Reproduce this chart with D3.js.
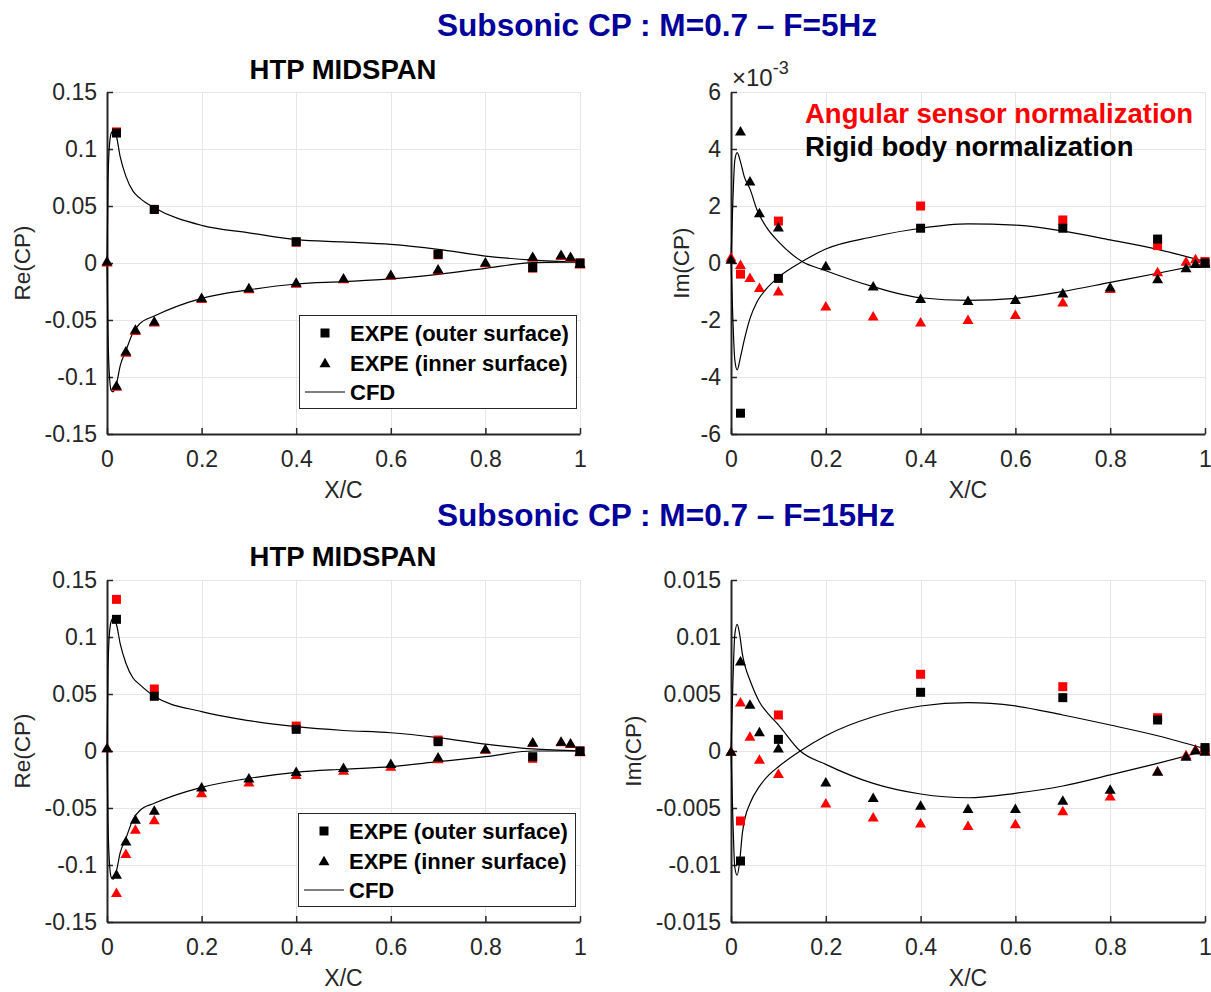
<!DOCTYPE html>
<html>
<head>
<meta charset="utf-8">
<script src="https://cdn.jsdelivr.net/npm/d3@7"></script>
<style>
  body { margin: 0; background: #fff; }
  svg { display: block; font-family: "Liberation Sans", Arial, sans-serif; }
</style>
</head>
<body>
<script>
// Pressure coefficient on the HTP midspan section, real and imaginary parts,
// at 5 Hz (top row) and 15 Hz (bottom row). Red: angular sensor normalization,
// black: rigid body normalization.

// Chordwise sensor stations
const xInner = [0, 0.02, 0.04, 0.06, 0.1, 0.2, 0.3, 0.4, 0.5, 0.6, 0.7, 0.8, 0.9, 0.96, 0.98, 1.0];
const xOuter = [0.02, 0.1, 0.4, 0.7, 0.9, 1.0];

const xTicks = [0, 0.2, 0.4, 0.6, 0.8, 1];
const reTicks = [-0.15, -0.1, -0.05, 0, 0.05, 0.1, 0.15];
const im5Ticks = [-6, -4, -2, 0, 2, 4, 6];           // units of 1e-3
const im15Ticks = [-0.015, -0.01, -0.005, 0, 0.005, 0.01, 0.015];

// ---- F = 5 Hz, Re(CP)
const re5RedOuter   = [0.115, 0.047, 0.0182, 0.0072, -0.0045, 0];
const re5BlackOuter = [0.114, 0.047, 0.0187, 0.0076, -0.004, 0];
const re5RedInner   = [0.001, -0.108, -0.078, -0.059, -0.0515, -0.031, -0.0224, -0.0175, -0.0137, -0.0106, -0.0057, 0.0005, 0.0053, 0.0069, 0.0052, -0.0007];
const re5BlackInner = [0.002, -0.107, -0.077, -0.058, -0.0506, -0.030, -0.0216, -0.0167, -0.0129, -0.0099, -0.005, 0.0012, 0.006, 0.0076, 0.0059, 0];

// ---- F = 5 Hz, Im(CP) (x 1e-3)
const im5RedOuter   = [-0.39, 1.47, 2.0, 1.51, 0.61, 0.05];
const im5BlackOuter = [-5.27, -0.54, 1.22, 1.22, 0.84, 0];
const im5RedInner   = [0.22, -0.04, -0.50, -0.85, -0.97, -1.50, -1.85, -2.06, -1.97, -1.80, -1.36, -0.89, -0.30, 0.07, 0.16, 0.05];
const im5BlackInner = [0.14, 4.64, 2.89, 1.77, 1.27, -0.09, -0.80, -1.24, -1.31, -1.27, -1.04, -0.83, -0.54, -0.16, -0.01, 0];

// ---- F = 15 Hz, Re(CP)
const re15RedOuter   = [0.133, 0.0544, 0.0219, 0.0096, -0.0064, 0];
const re15BlackOuter = [0.1155, 0.048, 0.019, 0.0082, -0.005, 0];
const re15RedInner   = [0.003, -0.124, -0.0898, -0.0684, -0.060, -0.0363, -0.0269, -0.0205, -0.0167, -0.0132, -0.0065, 0.0018, 0.0077, 0.0083, 0.0068, -0.0005];
const re15BlackInner = [0.003, -0.108, -0.0787, -0.0597, -0.0518, -0.0313, -0.0234, -0.0178, -0.0143, -0.0108, -0.005, 0.0023, 0.0082, 0.0088, 0.0073, 0];

// ---- F = 15 Hz, Im(CP)
const im15RedOuter   = [-0.00614, 0.00316, 0.00673, 0.00564, 0.00292, 0.0001];
const im15BlackOuter = [-0.00965, 0.00102, 0.00515, 0.00468, 0.00272, 0.0003];
const im15RedInner   = [0, 0.00433, 0.00132, -0.0007, -0.00196, -0.00453, -0.00576, -0.00629, -0.00652, -0.00635, -0.00523, -0.00392, -0.0017, -0.0003, 0.0002, 0.0002];
const im15BlackInner = [0, 0.00792, 0.00412, 0.0017, 0.00029, -0.00269, -0.00406, -0.00474, -0.00503, -0.00503, -0.0043, -0.00333, -0.00175, -0.00044, 0.0001, 0];

// ---- CFD distributions
const cfdReX = [0, 0.002, 0.005, 0.009, 0.013, 0.02, 0.028, 0.04, 0.055, 0.07, 0.1, 0.2, 0.3, 0.4, 0.5, 0.6, 0.7, 0.8, 0.9, 1.0];
const cfdRe5Outer  = [0, 0.07, 0.102, 0.114, 0.116, 0.111, 0.093, 0.076, 0.063, 0.0567, 0.0485, 0.033, 0.0265, 0.0205, 0.0185, 0.0164, 0.012, 0.0061, 0.0026, 0.001];
const cfdRe5Inner  = [0, -0.06, -0.098, -0.112, -0.113, -0.106, -0.09, -0.077, -0.061, -0.053, -0.0465, -0.031, -0.0235, -0.0184, -0.0164, -0.014, -0.0099, -0.0047, 0.0003, 0.001];
const cfdRe15Outer = [0, 0.07, 0.102, 0.114, 0.1164, 0.111, 0.094, 0.077, 0.064, 0.058, 0.048, 0.0345, 0.0266, 0.0213, 0.018, 0.016, 0.0117, 0.0061, 0.0018, 0];
const cfdRe15Inner = [0, -0.06, -0.097, -0.111, -0.1125, -0.105, -0.089, -0.0766, -0.060, -0.052, -0.0459, -0.0319, -0.024, -0.0187, -0.016, -0.0137, -0.0094, -0.005, 0, 0];

const cfdIm5X = [0, 0.004, 0.008, 0.013, 0.02, 0.028, 0.04, 0.055, 0.075, 0.1, 0.15, 0.2, 0.3, 0.4, 0.5, 0.6, 0.7, 0.8, 0.9, 1.0];
const cfdIm5Outer = [0.1, -2.0, -3.4, -3.75, -3.3, -2.7, -1.95, -1.36, -0.9, -0.5, 0.05, 0.49, 0.92, 1.22, 1.37, 1.33, 1.12, 0.81, 0.48, 0.05];
const cfdIm5Inner = [0.1, 2.2, 3.6, 3.87, 3.55, 3.03, 2.6, 1.86, 1.25, 0.75, 0.05, -0.27, -0.83, -1.22, -1.31, -1.24, -1.0, -0.68, -0.36, -0.03];

const cfdIm15X = [0, 0.004, 0.008, 0.013, 0.018, 0.024, 0.03, 0.04, 0.06, 0.08, 0.1, 0.146, 0.2, 0.3, 0.4, 0.5, 0.6, 0.7, 0.8, 0.9, 1.0];
const cfdIm15Outer = [0, -0.006, -0.0102, -0.0109, -0.0098, -0.0072, -0.0058, -0.0046, -0.0031, -0.0021, -0.00138, 0, 0.00134, 0.003, 0.00395, 0.00424, 0.00395, 0.00316, 0.00228, 0.00134, 0.0002];
const cfdIm15Inner = [0, 0.006, 0.0102, 0.0111, 0.0103, 0.0085, 0.0074, 0.0062, 0.0043, 0.0032, 0.0023, 0, -0.00117, -0.00284, -0.00377, -0.0041, -0.00371, -0.00307, -0.0021, -0.00108, 0];

const AX = "#262626";
const GRID = "#e6e6e6";
const RED = "#ff0000";

// number formatting with a plain hyphen for negatives
const locale = d3.formatLocale({ decimal: ".", thousands: ",", grouping: [3], currency: ["", ""], minus: "-" });
const fmt = locale.format("~g");

const svg = d3.select("body").append("svg")
  .attr("width", 1211).attr("height", 992);

// Figure titles
const titleColor = "#00009a";
svg.append("text").attr("x", 437).attr("y", 36)
  .attr("font-size", 31.6).attr("font-weight", "bold").attr("fill", titleColor)
  .text("Subsonic CP : M=0.7 \u2013 F=5Hz");
svg.append("text").attr("x", 437).attr("y", 526)
  .attr("font-size", 31.6).attr("font-weight", "bold").attr("fill", titleColor)
  .text("Subsonic CP : M=0.7 \u2013 F=15Hz");

const squarePath = s => `M${-s/2},${-s/2}H${s/2}V${s/2}H${-s/2}Z`;
const triPath = (w, h) => `M0,${-h/2}L${w/2},${h/2}L${-w/2},${h/2}Z`;

function zip(xs, ys) { return xs.map((x, i) => [x, ys[i]]); }

function drawPanel(cfg) {
  const g = svg.append("g");
  const x = d3.scaleLinear().domain([0, 1]).range([cfg.left, cfg.left + cfg.width]);
  const y = d3.scaleLinear().domain(cfg.yDomain).range([cfg.top + cfg.height, cfg.top]);

  // grid
  const grid = g.append("g");
  grid.selectAll("line.gx").data(xTicks).join("line")
    .attr("x1", d => Math.round(x(d)) + 0.5).attr("x2", d => Math.round(x(d)) + 0.5)
    .attr("y1", cfg.top).attr("y2", cfg.top + cfg.height)
    .attr("stroke", GRID).attr("stroke-width", 1);
  grid.selectAll("line.gy").data(cfg.yTicks).join("line")
    .attr("y1", d => Math.round(y(d)) + 0.5).attr("y2", d => Math.round(y(d)) + 0.5)
    .attr("x1", cfg.left).attr("x2", cfg.left + cfg.width)
    .attr("stroke", GRID).attr("stroke-width", 1);

  // axes (ticks pointing inward)
  const ya = g.append("g").attr("transform", `translate(${cfg.left},0)`)
    .call(d3.axisLeft(y).tickValues(cfg.yTicks).tickFormat(fmt)
      .tickSizeInner(-6).tickSizeOuter(0).tickPadding(10));
  const xa = g.append("g").attr("transform", `translate(0,${cfg.top + cfg.height})`)
    .call(d3.axisBottom(x).tickValues(xTicks).tickFormat(fmt)
      .tickSizeInner(-6).tickSizeOuter(0).tickPadding(17));
  [ya, xa].forEach(a => {
    a.select(".domain").attr("stroke", AX).attr("stroke-width", 2);
    a.selectAll(".tick line").attr("stroke", AX).attr("stroke-width", 1.5);
    a.selectAll(".tick text").attr("fill", AX).attr("font-size", 23)
      .attr("font-family", "Liberation Sans, Arial, sans-serif");
  });

  // axis labels
  g.append("text").attr("x", cfg.left + cfg.width / 2).attr("y", cfg.top + cfg.height + 64)
    .attr("text-anchor", "middle").attr("font-size", 23).attr("fill", AX).text("X/C");
  g.append("text")
    .attr("transform", `translate(${cfg.left - cfg.ylabelGap},${cfg.top + cfg.height / 2}) rotate(-90)`)
    .attr("text-anchor", "middle").attr("font-size", 22.5).attr("fill", AX).text(cfg.ylabel);

  // CFD curves
  const line = d3.line().x(d => x(d[0])).y(d => y(d[1])).curve(d3.curveMonotoneX);
  [cfg.cfdOuter, cfg.cfdInner].forEach(ys => {
    g.append("path").datum(zip(cfg.cfdX, ys))
      .attr("d", line).attr("fill", "none").attr("stroke", "#000").attr("stroke-width", 1.2);
  });

  // experimental points: red first, black drawn over
  const series = [
    { xs: xOuter, ys: cfg.redOuter, c: RED, sq: true },
    { xs: xInner, ys: cfg.redInner, c: RED, sq: false },
    { xs: xOuter, ys: cfg.blackOuter, c: "#000", sq: true },
    { xs: xInner, ys: cfg.blackInner, c: "#000", sq: false }
  ];
  series.forEach(s => {
    g.append("g").selectAll("path").data(zip(s.xs, s.ys)).join("path")
      .attr("transform", d => `translate(${x(d[0])},${y(d[1])})`)
      .attr("d", s.sq ? squarePath(9) : triPath(11, 9.5))
      .attr("fill", s.c);
  });

  return { g, x, y };
}

function drawLegend(left, top) {
  const g = svg.append("g").attr("transform", `translate(${left},${top})`);
  g.append("rect").attr("x", 0.5).attr("y", 0.5).attr("width", 277).attr("height", 93)
    .attr("fill", "#fff").attr("stroke", AX).attr("stroke-width", 1);
  const rows = [
    { kind: "sq", label: "EXPE (outer surface)", cy: 18 },
    { kind: "tri", label: "EXPE (inner surface)", cy: 47.5 },
    { kind: "line", label: "CFD", cy: 77 }
  ];
  rows.forEach(r => {
    if (r.kind === "sq") g.append("path").attr("transform", `translate(26,${r.cy})`).attr("d", squarePath(9)).attr("fill", "#000");
    if (r.kind === "tri") g.append("path").attr("transform", `translate(26,${r.cy})`).attr("d", triPath(11, 9.5)).attr("fill", "#000");
    if (r.kind === "line") g.append("line").attr("x1", 6).attr("x2", 46).attr("y1", r.cy).attr("y2", r.cy)
      .attr("stroke", "#000").attr("stroke-width", 1.2);
    g.append("text").attr("x", 51).attr("y", r.cy + 8).attr("font-size", 22)
      .attr("font-weight", "bold").attr("fill", "#000").text(r.label);
  });
}

// Top-left: Re(CP), 5 Hz
drawPanel({ left: 107, top: 92, width: 473, height: 342, yDomain: [-0.15, 0.15], yTicks: reTicks,
  ylabel: "Re(CP)", ylabelGap: 77,
  cfdX: cfdReX, cfdOuter: cfdRe5Outer, cfdInner: cfdRe5Inner,
  redOuter: re5RedOuter, blackOuter: re5BlackOuter, redInner: re5RedInner, blackInner: re5BlackInner });
svg.append("text").attr("x", 343).attr("y", 79).attr("text-anchor", "middle")
  .attr("font-size", 27.5).attr("font-weight", "bold").text("HTP MIDSPAN");
drawLegend(299, 315);

// Top-right: Im(CP), 5 Hz
drawPanel({ left: 731, top: 92, width: 474, height: 342, yDomain: [-6, 6], yTicks: im5Ticks,
  ylabel: "Im(CP)", ylabelGap: 42,
  cfdX: cfdIm5X, cfdOuter: cfdIm5Outer, cfdInner: cfdIm5Inner,
  redOuter: im5RedOuter, blackOuter: im5BlackOuter, redInner: im5RedInner, blackInner: im5BlackInner });
const expo = svg.append("text").attr("x", 732).attr("y", 86).attr("fill", AX).attr("font-size", 24);
expo.append("tspan").text("\u00d710");
expo.append("tspan").attr("dy", -12).attr("font-size", 18).text("-3");
svg.append("text").attr("x", 805).attr("y", 123).attr("font-size", 27.5).attr("font-weight", "bold")
  .attr("fill", RED).text("Angular sensor normalization");
svg.append("text").attr("x", 805).attr("y", 156).attr("font-size", 27.5).attr("font-weight", "bold")
  .attr("fill", "#000").text("Rigid body normalization");

// Bottom-left: Re(CP), 15 Hz
drawPanel({ left: 107, top: 580, width: 473, height: 342, yDomain: [-0.15, 0.15], yTicks: reTicks,
  ylabel: "Re(CP)", ylabelGap: 77,
  cfdX: cfdReX, cfdOuter: cfdRe15Outer, cfdInner: cfdRe15Inner,
  redOuter: re15RedOuter, blackOuter: re15BlackOuter, redInner: re15RedInner, blackInner: re15BlackInner });
svg.append("text").attr("x", 343).attr("y", 566).attr("text-anchor", "middle")
  .attr("font-size", 27.5).attr("font-weight", "bold").text("HTP MIDSPAN");
drawLegend(298, 813);

// Bottom-right: Im(CP), 15 Hz
drawPanel({ left: 731, top: 580, width: 474, height: 342, yDomain: [-0.015, 0.015], yTicks: im15Ticks,
  ylabel: "Im(CP)", ylabelGap: 90,
  cfdX: cfdIm15X, cfdOuter: cfdIm15Outer, cfdInner: cfdIm15Inner,
  redOuter: im15RedOuter, blackOuter: im15BlackOuter, redInner: im15RedInner, blackInner: im15BlackInner });
</script>
</body>
</html>
